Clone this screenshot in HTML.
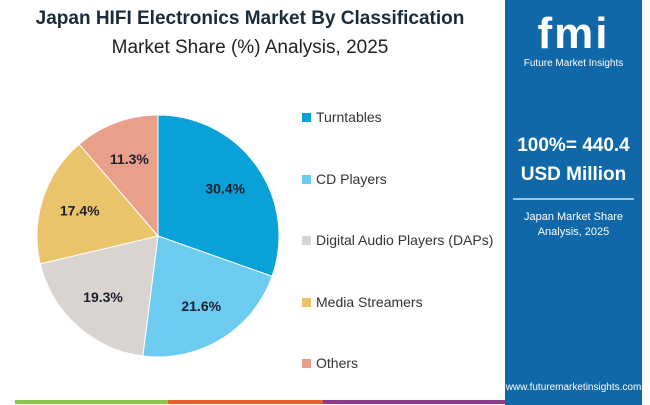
<!DOCTYPE html>
<html><head><meta charset="utf-8"><style>
body{margin:0;width:650px;height:405px;background:#fff;position:relative;overflow:hidden;font-family:"Liberation Sans",sans-serif}
.t{position:absolute;left:0;width:500px;text-align:center;font-weight:bold;color:#1a2b3c;font-size:19px}
.panel{position:absolute;left:505px;top:0;width:137px;height:405px;background:#1068a8;color:#fff;text-align:center}
.leg{position:absolute;left:302px;font-size:14px;color:#333}
.leg i{display:inline-block;width:9px;height:9px;margin-right:5px}
</style></head><body>
<div class="t" style="top:8px">Japan HIFI Electronics Market By Classification</div>
<div class="t" style="top:37px;font-weight:normal;color:#222">Market Share (%) Analysis, 2025</div>
<svg id="pie" width="500" height="405" style="position:absolute;left:0;top:0"></svg>
<div id="legend"></div>
<div class="panel">
<div style="margin-top:10px;font-size:44px;font-weight:bold;letter-spacing:2px;line-height:48px">fmi</div>
<div style="font-size:10px">Future Market Insights</div>
<div style="margin-top:62px;font-size:19px;font-weight:bold;line-height:29px">100%= 440.4<br>USD Million</div>
<div style="margin:9px 8px 0;border-top:2px solid #9cc3e0"></div>
<div style="margin-top:10px;font-size:11px;line-height:15px">Japan Market Share<br>Analysis, 2025</div>
<div style="position:absolute;top:382px;width:137px;font-size:10px">www.futuremarketinsights.com</div>
</div>
<div style="position:absolute;left:15px;top:400px;width:153px;height:4px;background:#8bc34a"></div>
<div style="position:absolute;left:168px;top:400px;width:155px;height:4px;background:#e0622d"></div>
<div style="position:absolute;left:323px;top:400px;width:182px;height:4px;background:#8e3b8e"></div>
<script>
const categories=["Turntables","CD Players","Digital Audio Players (DAPs)","Media Streamers","Others"];
const values=[30.4,21.6,19.3,17.4,11.3];
const colors=["#0aa0d8","#6ccbef","#d9d4cf","#e9c46a","#e9a08a"];
const svg=document.getElementById('pie'),NS="http://www.w3.org/2000/svg";
const cx=158,cy=236,r=121;let tot=values.reduce((a,b)=>a+b,0),a0=0;
function pt(a,rr){return [cx+rr*Math.sin(a),cy-rr*Math.cos(a)];}
values.forEach((v,i)=>{const a1=a0+v/tot*2*Math.PI;const p0=pt(a0,r),p1=pt(a1,r);
const p=document.createElementNS(NS,'path');
p.setAttribute('d',`M${cx},${cy}L${p0[0]},${p0[1]}A${r},${r} 0 ${a1-a0>Math.PI?1:0} 1 ${p1[0]},${p1[1]}Z`);
p.setAttribute('fill',colors[i]);p.setAttribute('stroke','#fff');p.setAttribute('stroke-width','1');


svg.appendChild(p);
const m=pt((a0+a1)/2,r*0.68);const t=document.createElementNS(NS,'text');
t.setAttribute('x',m[0]);t.setAttribute('y',m[1]+5);t.setAttribute('text-anchor','middle');
t.setAttribute('font-size','14');t.setAttribute('font-weight','bold');t.setAttribute('fill','#1a2030');
t.textContent=v.toFixed(1)+'%';


svg.appendChild(t);a0=a1;});
const lg=document.getElementById('legend');
categories.forEach((c,i)=>{const d=document.createElement('div');d.className='leg';d.style.top=(109+i*61.5)+'px';
d.innerHTML=`<i style="background:${colors[i]}"></i>${c}`;


lg.appendChild(d);});
</script>
</body></html>
